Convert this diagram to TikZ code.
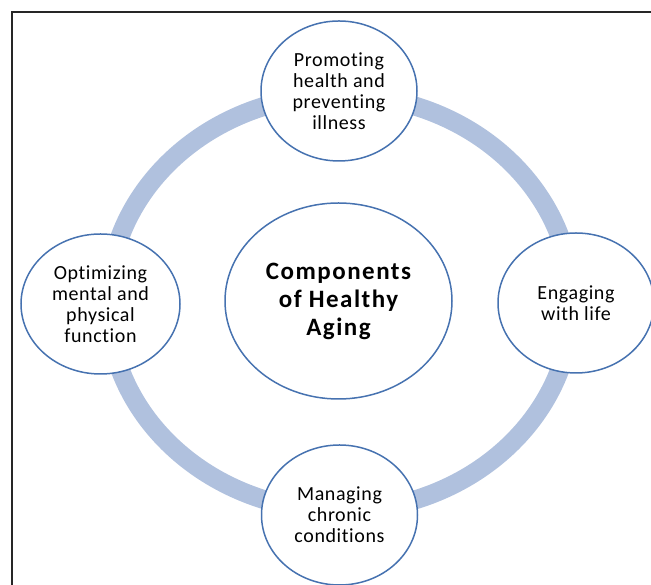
\documentclass[tikz,border=0pt]{standalone}
\usepackage{fontspec}
\setmainfont{Carlito}[Ligatures=NoCommon, LetterSpace=3]
\usetikzlibrary{shapes.geometric}
\definecolor{ring}{RGB}{176, 193, 222}
\definecolor{edge}{RGB}{70, 114, 176}

\begin{document}
\begin{tikzpicture}[x=1pt, y=1pt,
    part/.style={ellipse, draw=edge, fill=white, line width=1.5, inner sep=0,
                 minimum width=156pt, minimum height=140pt, align=center,
                 font=\fontsize{20}{21}\selectfont}]

  \useasboundingbox (0, 0) rectangle (651, 585);
  \clip (0, 0) rectangle (651, 585);

  % frame
  \draw[black!85, line width=1.8] (12, 0) -- (12, 573) -- (651, 573);

  % ring behind the circles
  \draw[ring, line width=19] (340, 282) ellipse (232 and 208);

  \node[part] (promote) at (339, 494) {Promoting\\health and\\preventing\\illness};
  \node[part, minimum width=159pt] (mental) at (100.5, 281) {Optimizing\\mental and\\physical\\function};
  \node[part] (engage) at (576, 282) {Engaging\\with life};
  \node[part] (chronic) at (339.5, 70) {Managing\\chronic\\conditions};

  \node[part, minimum width=227pt, minimum height=196pt,
        font=\fontsize{25}{28}\selectfont\bfseries\addfontfeatures{LetterSpace=6}] (core) at (338.5, 284)
        {Components\\of Healthy\\Aging};

\end{tikzpicture}
\end{document}
